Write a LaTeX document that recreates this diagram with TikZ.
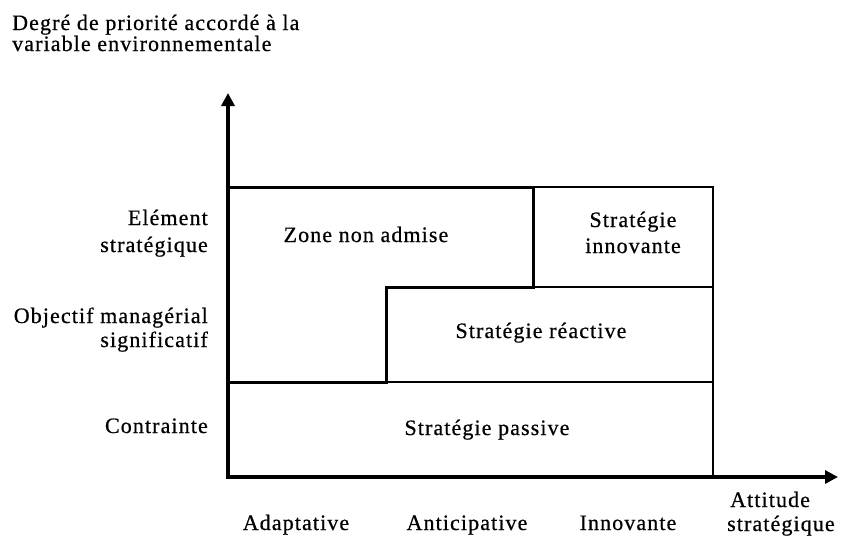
\documentclass[tikz,border=0pt]{standalone}
\usepackage{fontspec}
\setmainfont{Liberation Serif}[LetterSpace=5,FakeBold=0.6]
\usetikzlibrary{arrows.meta}
\begin{document}
\begin{tikzpicture}[x=1pt,y=-1pt,
  lbl/.style={font=\fontsize{22}{26}\selectfont, inner sep=0pt},
  axisline/.style={line width=3.2pt, line join=miter,
    {Triangle[length=13pt,width=13pt]}-{Triangle[length=13pt,width=13pt]}},
  zoneline/.style={line width=3pt, line join=miter},
  cellline/.style={line width=1.6pt}]
\useasboundingbox (0,0) rectangle (844,544);
% grid points
\coordinate (O) at (228,477);
\coordinate (ytip) at (228,93);
\coordinate (xtip) at (838,477);
\coordinate (tl) at (228,187);
\coordinate (zr) at (533,187);
\coordinate (tr) at (713,187);
\coordinate (br) at (713,477);
\coordinate (sr) at (533,287);
\coordinate (sl) at (386,287);
\coordinate (mr) at (386,382);
\coordinate (ml) at (228,382);
\coordinate (ir) at (713,287);
\coordinate (rr) at (713,382);
% cells
\draw[cellline] (zr) -- (tr) -- (br);
\draw[cellline] (sr) -- (ir);
\draw[cellline] (mr) -- (rr);
\draw[zoneline] (ml) -- (mr) -- (sl) -- (sr) -- (zr) -- (tl);
% axes
\draw[axisline] (ytip) -- (O) -- (xtip);
% title
\node[lbl, anchor=base west] (t1) at (12,30) {Degré de priorité accordé à la};
\node[lbl, anchor=base west] (t2) at (12,51) {variable environnementale};
% y labels
\node[lbl, anchor=base east] (y1a) at (208,225) {Elément};
\node[lbl, anchor=base east] (y1b) at (208,252) {stratégique};
\node[lbl, anchor=base east] (y2a) at (208,323) {Objectif managérial};
\node[lbl, anchor=base east] (y2b) at (208,347) {significatif};
\node[lbl, anchor=base east] (y3) at (208,433) {Contrainte};
% cell labels
\node[lbl, anchor=base] (zna) at (366,242) {Zone non admise};
\node[lbl, anchor=base] (si1) at (633,227) {Stratégie};
\node[lbl, anchor=base] (si2) at (633,253) {innovante};
\node[lbl, anchor=base] (sre) at (541,338) {Stratégie réactive};
\node[lbl, anchor=base] (spa) at (487,435) {Stratégie passive};
% x labels
\node[lbl, anchor=base] (x1) at (296,530) {Adaptative};
\node[lbl, anchor=base] (x2) at (467,530) {Anticipative};
\node[lbl, anchor=base] (x3) at (628,530) {Innovante};
\node[lbl, anchor=base west] (x4a) at (730,507) {Attitude};
\node[lbl, anchor=base west] (x4b) at (727,531) {stratégique};
\end{tikzpicture}
\end{document}
